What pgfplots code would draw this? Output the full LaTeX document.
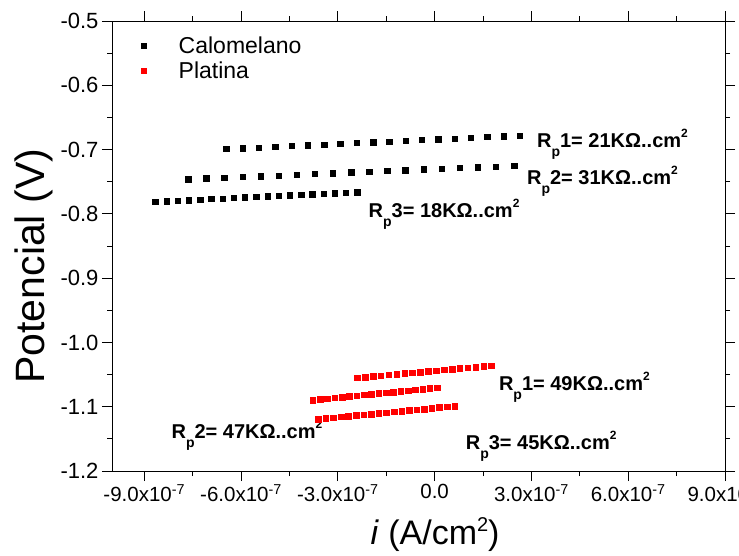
\documentclass[border=0pt]{standalone}
\usepackage{fontspec}
\setmainfont{Liberation Sans}
\usepackage{pgfplots}
\pgfplotsset{compat=1.18}
\newcommand{\rp}[2]{\fontsize{20}{23}\selectfont\bfseries R\raisebox{-9pt}{\fontsize{14}{14}\selectfont p}#1= #2KΩ..cm\raisebox{10pt}{\fontsize{12}{12}\selectfont 2}}
\begin{document}
\begin{tikzpicture}
\begin{axis}[
  at={(112pt,84pt)}, anchor=south west,
  scale only axis, width=613pt, height=450pt,
  xmin=-1.0e-6, xmax=9e-7, ymin=-1.2, ymax=-0.5,
  axis line style={line width=1pt},
  tick style={line width=1pt, black},
  tick align=outside,
  xtick pos=both, ytick pos=both,
  xticklabel pos=bottom, yticklabel pos=left,
  major tick length=10pt, minor tick length=5pt,
  xtick={-9e-7,-6e-7,-3e-7,0,3e-7,6e-7,9e-7},
  xticklabels={-9.0x10\textsuperscript{-7},-6.0x10\textsuperscript{-7},-3.0x10\textsuperscript{-7},0.0,3.0x10\textsuperscript{-7},6.0x10\textsuperscript{-7},9.0x10\textsuperscript{-7}},
  minor xtick={-7.5e-7,-4.5e-7,-1.5e-7,1.5e-7,4.5e-7,7.5e-7},
  ytick={-1.2,-1.1,-1.0,-0.9,-0.8,-0.7,-0.6,-0.5},
  yticklabels={-1.2,-1.1,-1.0,-0.9,-0.8,-0.7,-0.6,-0.5},
  minor ytick={-1.15,-1.05,-0.95,-0.85,-0.75,-0.65,-0.55},
  scaled x ticks=false,
  xticklabel style={font=\fontsize{20.5}{24}\selectfont},
  yticklabel style={font=\fontsize{22}{26}\selectfont},
  xlabel={\textit{i} (A/cm\raisebox{13pt}{\fontsize{20}{20}\selectfont 2})},
  ylabel={Potencial (V)},
  xlabel style={font=\fontsize{34}{40}\selectfont, at={(axis description cs:0.527,-0.142)}, anchor=center},
  ylabel style={font=\fontsize{41}{46}\selectfont, at={(axis description cs:-0.128,0.455)}, anchor=center},
  legend style={draw=none, fill=none, at={(axis description cs:0.04,0.975)}, anchor=north west,
    font=\fontsize{23}{26}\selectfont, row sep=3pt},
  legend cell align=left,
  legend image code/.code={\path[draw=none,fill=none] (-4pt,0pt) -- (33pt,0pt); \draw[#1,mark size=2.4pt] plot coordinates {(0pt,0pt)};},
]
\addplot[only marks, mark=square*, mark size=2.7pt, black] coordinates {
(-6.460e-7,-0.6990) (-5.954e-7,-0.6978) (-5.449e-7,-0.6967) (-4.943e-7,-0.6955) (-4.438e-7,-0.6943)
(-3.932e-7,-0.6932) (-3.427e-7,-0.6920) (-2.921e-7,-0.6908) (-2.416e-7,-0.6897) (-1.910e-7,-0.6885)
(-1.404e-7,-0.6873) (-0.899e-7,-0.6862) (-0.393e-7,-0.6850) (0.112e-7,-0.6838) (0.618e-7,-0.6827)
(1.123e-7,-0.6815) (1.629e-7,-0.6803) (2.134e-7,-0.6792) (2.640e-7,-0.6780)
(-7.640e-7,-0.7460) (-7.079e-7,-0.7448) (-6.518e-7,-0.7437) (-5.957e-7,-0.7425) (-5.396e-7,-0.7413)
(-4.834e-7,-0.7402) (-4.273e-7,-0.7390) (-3.712e-7,-0.7378) (-3.151e-7,-0.7367) (-2.590e-7,-0.7355)
(-2.029e-7,-0.7343) (-1.468e-7,-0.7332) (-0.907e-7,-0.7320) (-0.346e-7,-0.7308) (0.215e-7,-0.7297)
(0.777e-7,-0.7285) (1.338e-7,-0.7273) (1.899e-7,-0.7262) (2.460e-7,-0.7250)
(-8.660e-7,-0.7810) (-8.312e-7,-0.7802) (-7.964e-7,-0.7793) (-7.617e-7,-0.7785) (-7.269e-7,-0.7777)
(-6.921e-7,-0.7768) (-6.573e-7,-0.7760) (-6.226e-7,-0.7752) (-5.878e-7,-0.7743) (-5.530e-7,-0.7735)
(-5.182e-7,-0.7727) (-4.834e-7,-0.7718) (-4.487e-7,-0.7710) (-4.139e-7,-0.7702) (-3.791e-7,-0.7693)
(-3.443e-7,-0.7685) (-3.096e-7,-0.7677) (-2.748e-7,-0.7668) (-2.400e-7,-0.7660)
};
\addlegendentry{Calomelano}
\addplot[only marks, mark=square*, mark size=2.8pt, red] coordinates {
(-2.400e-7,-1.0550) (-2.155e-7,-1.0539) (-1.911e-7,-1.0528) (-1.666e-7,-1.0516) (-1.421e-7,-1.0505)
(-1.176e-7,-1.0494) (-0.932e-7,-1.0483) (-0.687e-7,-1.0472) (-0.442e-7,-1.0461) (-0.198e-7,-1.0449)
(0.047e-7,-1.0438) (0.292e-7,-1.0427) (0.536e-7,-1.0416) (0.781e-7,-1.0405) (1.026e-7,-1.0393)
(1.271e-7,-1.0382) (1.515e-7,-1.0371) (1.760e-7,-1.0360)
(-3.780e-7,-1.0895) (-3.553e-7,-1.0884) (-3.326e-7,-1.0873) (-3.099e-7,-1.0861) (-2.872e-7,-1.0850)
(-2.645e-7,-1.0839) (-2.417e-7,-1.0828) (-2.190e-7,-1.0816) (-1.963e-7,-1.0805) (-1.736e-7,-1.0794)
(-1.509e-7,-1.0783) (-1.282e-7,-1.0771) (-1.055e-7,-1.0760) (-0.828e-7,-1.0749) (-0.601e-7,-1.0738)
(-0.374e-7,-1.0726) (-0.147e-7,-1.0715) (0.080e-7,-1.0704)
(-3.610e-7,-1.1190) (-3.375e-7,-1.1179) (-3.140e-7,-1.1168) (-2.905e-7,-1.1157) (-2.670e-7,-1.1146)
(-2.435e-7,-1.1134) (-2.200e-7,-1.1123) (-1.965e-7,-1.1112) (-1.730e-7,-1.1101) (-1.495e-7,-1.1090)
(-1.260e-7,-1.1079) (-1.025e-7,-1.1068) (-0.790e-7,-1.1057) (-0.555e-7,-1.1046) (-0.320e-7,-1.1034)
(-0.085e-7,-1.1023) (0.150e-7,-1.1012) (0.385e-7,-1.1001) (0.620e-7,-1.0990)
};
\addlegendentry{Platina}
\node[anchor=base west, inner sep=0pt] at (axis cs:3.17e-7,-0.696) {\rp{1}{21}};
\node[anchor=base west, inner sep=0pt] at (axis cs:2.86e-7,-0.755) {\rp{2}{31}};
\node[anchor=base west, inner sep=0pt] at (axis cs:-2.05e-7,-0.805) {\rp{3}{18}};
\node[anchor=base west, inner sep=0pt] at (axis cs:1.99e-7,-1.074) {\rp{1}{49}};
\node[anchor=base west, inner sep=0pt] at (axis cs:-8.16e-7,-1.149) {\rp{2}{47}};
\node[anchor=base west, inner sep=0pt] at (axis cs:0.96e-7,-1.167) {\rp{3}{45}};
\end{axis}
\pgfresetboundingbox
\useasboundingbox (0,0) rectangle (739pt,555pt);
\end{tikzpicture}
\end{document}
